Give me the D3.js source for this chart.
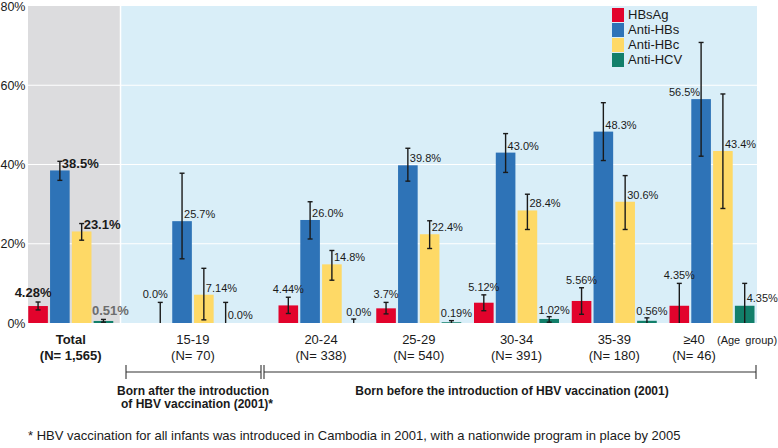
<!DOCTYPE html>
<html>
<head>
<meta charset="utf-8">
<script src="https://cdn.jsdelivr.net/npm/d3@7"></script>
<style>
  body { margin: 0; background: #fff; }
  text { font-family: 'Liberation Sans', Arial, sans-serif; fill: #1a1a1a; }
</style>
</head>
<body>
<div id="chart"></div>
<script>
const width = 778
const height = 448

const groups = ['Total', '15-19', '20-24', '25-29', '30-34', '35-39', '≥40']
const groupN = ['1,565', '70', '338', '540', '391', '180', '46']
const series = ['HBsAg', 'Anti-HBs', 'Anti-HBc', 'Anti-HCV']
const colors = ['#e2032c', '#2e73b7', '#fed966', '#127f6a']

const hbsag = [4.28, 0.0, 4.44, 3.7, 5.12, 5.56, 4.35]
const hbsagLo = [3.3, 0, 2.4, 2.3, 3.1, 2.2, 0]
const hbsagHi = [5.3, 5.2, 6.5, 5.2, 7.1, 8.9, 10.0]

const antiHbs = [38.5, 25.7, 26.0, 39.8, 43.0, 48.3, 56.5]
const antiHbsLo = [36.0, 16.2, 21.2, 35.8, 38.0, 41.0, 42.1]
const antiHbsHi = [40.8, 37.8, 30.6, 44.1, 47.8, 55.6, 70.8]

const antiHbc = [23.1, 7.14, 14.8, 22.4, 28.4, 30.6, 43.4]
const antiHbcLo = [20.9, 0.8, 10.8, 18.8, 23.6, 23.6, 28.9]
const antiHbcHi = [25.1, 13.8, 18.3, 25.8, 32.5, 37.2, 57.8]

const antiHcv = [0.51, 0.0, 0.0, 0.19, 1.02, 0.56, 4.35]
const antiHcvLo = [0.2, 0, 0, 0, 0.2, 0, 0]
const antiHcvHi = [0.9, 5.2, 1.0, 0.6, 1.6, 1.3, 10.0]

const yTicks = [0, 20, 40, 60, 80]

const values = [hbsag, antiHbs, antiHbc, antiHcv]
const lows = [hbsagLo, antiHbsLo, antiHbcLo, antiHcvLo]
const highs = [hbsagHi, antiHbsHi, antiHbcHi, antiHcvHi]

const svg = d3.select('#chart').append('svg')
  .attr('width', width)
  .attr('height', height)

const y = d3.scaleLinear().domain([0, 80]).range([323, 6])

// group slots: Total and 15-19 sit apart from the 20+ run
const slot = i => (i === 0 ? -0.56 : i === 1 ? 0.69 : i)
const xSlot = d3.scaleLinear().domain([2, 6]).range([321, 712])
const gx = i => xSlot(slot(i))
const xInner = d3.scaleBand().domain(series).range([-42.5, 42.5]).paddingInner(0.1)

const left = 28
const right = 757
const split = gx(0) + 49

// backgrounds
svg.append('rect')
  .attr('x', left).attr('y', y(80))
  .attr('width', split - left).attr('height', y(0) - y(80))
  .attr('fill', '#dcdcde')
svg.append('rect')
  .attr('x', split + 1.5).attr('y', y(80))
  .attr('width', right - split - 1.5).attr('height', y(0) - y(80))
  .attr('fill', '#d9eef8')

// grid
svg.append('g')
  .selectAll('line')
  .data(yTicks.filter(t => t > 0 && t < 80))
  .enter()
  .append('line')
  .attr('x1', left).attr('x2', right)
  .attr('y1', d => y(d)).attr('y2', d => y(d))
  .attr('stroke', '#fff').attr('stroke-width', 1.2)

// y axis
const yAxis = svg.append('g')
  .attr('transform', `translate(${left},0)`)
  .call(d3.axisLeft(y).tickValues(yTicks).tickSize(0).tickPadding(2.5).tickFormat(d => d + '%'))
yAxis.select('.domain').remove()
yAxis.selectAll('text')
  .style('font-size', '12.5px')
  .style('font-family', "'Liberation Sans', Arial, sans-serif")
  .attr('fill', '#1a1a1a')

// bars
const bars = []
groups.forEach((g, i) => {
  series.forEach((s, k) => {
    bars.push({ gi: i, k, s, v: values[k][i], lo: lows[k][i], hi: highs[k][i] })
  })
})
const bx = d => gx(d.gi) + xInner(d.s)
const cx = d => bx(d) + xInner.bandwidth() / 2

svg.append('g')
  .selectAll('rect')
  .data(bars)
  .enter()
  .append('rect')
  .attr('x', bx)
  .attr('y', d => y(d.v))
  .attr('width', xInner.bandwidth())
  .attr('height', d => y(0) - y(d.v))
  .attr('fill', d => colors[d.k])

// error bars
const err = svg.append('g')
  .attr('stroke', '#1a1a1a')
  .attr('stroke-width', 1.4)
  .selectAll('g')
  .data(bars)
  .enter()
  .append('g')
err.append('line')
  .attr('x1', cx).attr('x2', cx)
  .attr('y1', d => y(d.lo)).attr('y2', d => y(d.hi))
err.append('line')
  .attr('x1', d => cx(d) - 2.5).attr('x2', d => cx(d) + 2.5)
  .attr('y1', d => y(d.hi)).attr('y2', d => y(d.hi))
err.filter(d => d.lo > 0).append('line')
  .attr('x1', d => cx(d) - 2.5).attr('x2', d => cx(d) + 2.5)
  .attr('y1', d => y(d.lo)).attr('y2', d => y(d.lo))

// value labels
function labelFor(d) {
  const c = cx(d)
  const v = d.v
  const text = (String(v).includes('.') ? String(v) : v.toFixed(1)) + '%'
  if (d.k === 0) return { x: c - (d.gi === 1 ? 5 : 0), y: y(d.hi) - 7, anchor: 'middle', text }
  if (d.k === 3) {
    if (d.hi > 5 && v === 0) return { x: c + 2, y: y(0) - 7, anchor: 'start', text }
    if (d.hi > 5) return { x: c + 2, y: y(v) - 7, anchor: 'start', text }
    return { x: c + 5, y: Math.min(y(d.hi) - 6, 314), anchor: 'middle', text }
  }
  if (d.gi === 6 && d.k === 1) return { x: c - 1, y: y(v) - 6, anchor: 'end', text }
  return { x: c + 2, y: y(v) - 6, anchor: 'start', text }
}

svg.append('g')
  .selectAll('text')
  .data(bars)
  .enter()
  .append('text')
  .each(function (d) {
    const l = labelFor(d)
    const total = d.gi === 0
    let x = l.x
    let yy = l.y
    if (total && d.k === 0) { x -= 5; yy = y(d.hi) - 8 }
    if (total && d.k === 3) { x = cx(d) + 7; yy = y(d.hi) - 8 }
    d3.select(this)
      .attr('x', x)
      .attr('y', yy)
      .attr('text-anchor', l.anchor)
      .attr('dominant-baseline', 'middle')
      .style('font-size', total ? '13px' : '11px')
      .style('font-weight', total ? 'bold' : 'normal')
      .style('fill', total && d.k === 3 ? '#6d6d6d' : '#1a1a1a')
      .text(l.text)
  })

// category labels
const catX = i => gx(i) - (i === 6 ? 18 : 0)
const cats = svg.append('g')
  .selectAll('g')
  .data(groups)
  .enter()
  .append('g')
  .style('font-weight', (d, i) => (i === 0 ? 'bold' : 'normal'))
cats.append('text')
  .attr('x', (d, i) => catX(i))
  .attr('y', 341)
  .attr('text-anchor', 'middle')
  .attr('dominant-baseline', 'middle')
  .style('font-size', '13px')
  .text(d => d)
cats.append('text')
  .attr('x', (d, i) => catX(i))
  .attr('y', 357)
  .attr('text-anchor', 'middle')
  .attr('dominant-baseline', 'middle')
  .style('font-size', '13px')
  .text((d, i) => `(N= ${groupN[i]})`)

svg.append('text')
  .attr('x', 717)
  .attr('y', 341)
  .attr('dominant-baseline', 'middle')
  .style('font-size', '11px')
  .style('word-spacing', '2px')
  .text('(Age group)')

// birth-cohort brackets
const bracketY = 372
const br = svg.append('g').attr('stroke', '#333').attr('stroke-width', 1.1)
const brackets = [[126, 261], [264, 756]]
brackets.forEach(([a, b]) => {
  br.append('line').attr('x1', a).attr('x2', b).attr('y1', bracketY).attr('y2', bracketY)
  br.append('line').attr('x1', a).attr('x2', a).attr('y1', bracketY - 7).attr('y2', bracketY + 7)
  br.append('line').attr('x1', b).attr('x2', b).attr('y1', bracketY - 7).attr('y2', bracketY + 7)
})

const note = svg.append('g').style('font-weight', 'bold').style('font-size', '12px')
note.append('text')
  .attr('x', 193).attr('y', 392)
  .attr('text-anchor', 'middle').attr('dominant-baseline', 'middle')
  .text('Born after the introduction')
note.append('text')
  .attr('x', 197).attr('y', 405)
  .attr('text-anchor', 'middle').attr('dominant-baseline', 'middle')
  .text('of HBV vaccination (2001)*')
note.append('text')
  .attr('x', 512).attr('y', 392)
  .attr('text-anchor', 'middle').attr('dominant-baseline', 'middle')
  .text('Born before the introduction of HBV vaccination (2001)')

svg.append('text')
  .attr('x', 28).attr('y', 437)
  .attr('dominant-baseline', 'middle')
  .style('font-size', '13px')
  .text('* HBV vaccination for all infants was introduced in Cambodia in 2001, with a nationwide program in place by 2005')

// legend
const legend = svg.append('g').attr('transform', 'translate(612,8)')
const li = legend.selectAll('g')
  .data(series)
  .enter()
  .append('g')
  .attr('transform', (d, i) => `translate(0,${i * 15})`)
li.append('rect')
  .attr('width', 12).attr('height', 14)
  .attr('fill', (d, i) => colors[i])
li.append('text')
  .attr('x', 16).attr('y', 7.5)
  .attr('dominant-baseline', 'middle')
  .style('font-size', '13px')
  .text(d => d)
</script>
</body>
</html>
